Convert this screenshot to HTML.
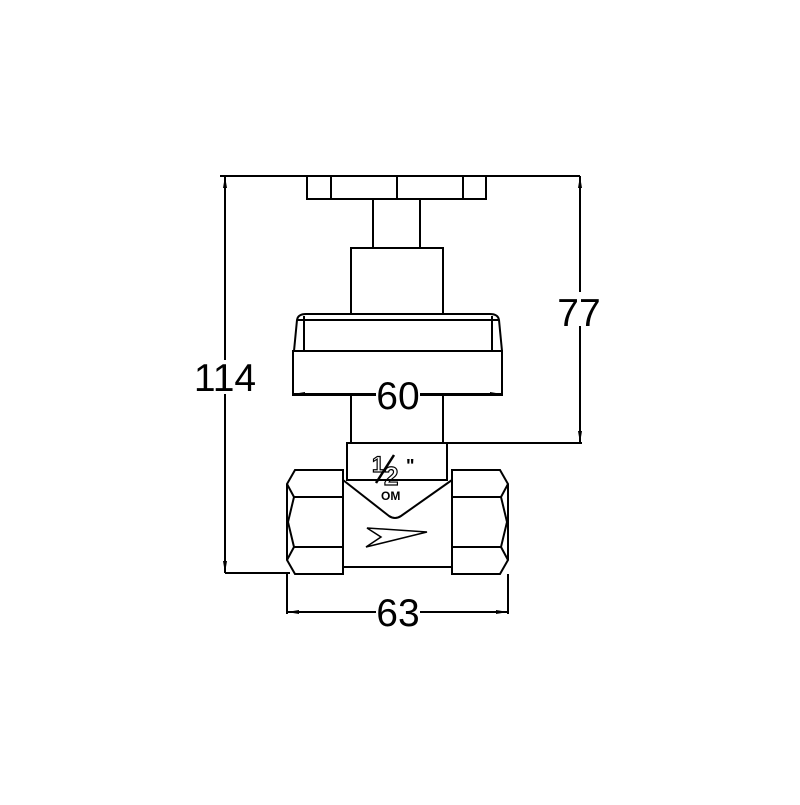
<!DOCTYPE html>
<html><head><style>html,body{margin:0;padding:0;background:#fff}</style></head><body>
<svg width="800" height="800" viewBox="0 0 800 800" xmlns="http://www.w3.org/2000/svg">
<g fill="none" stroke="#000" stroke-width="2">
<rect x="307" y="176" width="179" height="23"/>
<line x1="331" y1="176" x2="331" y2="199"/><line x1="397" y1="176" x2="397" y2="199"/><line x1="463" y1="176" x2="463" y2="199"/>
<rect x="373" y="199" width="47" height="49"/>
<rect x="351" y="248" width="92" height="66"/>
<path d="M294 351 L297 320 Q298 314 306 314 L490 314 Q498 314 499 320 L502 351"/>
<line x1="297" y1="320" x2="499" y2="320"/>
<line x1="304" y1="316" x2="304" y2="351"/><line x1="492" y1="316" x2="492" y2="351"/>
<rect x="293" y="351" width="209" height="44"/>
<line x1="351" y1="395" x2="351" y2="443"/><line x1="443" y1="395" x2="443" y2="443"/>
<rect x="347" y="443" width="100" height="37"/>
<path d="M343 470 L343 567 L452 567 L452 470"/>
<path d="M343 480 L389 516 Q395 520 401 516 L452 480"/>
<path d="M295 470 L343 470 L343 574 L295 574 L287 560 L287 484 Z"/>
<path d="M287 484 L294 497 L343 497 M294 497 L288 522 L294 547 L343 547 M294 547 L287 560"/>
<path d="M500 470 L452 470 L452 574 L500 574 L508 560 L508 484 Z"/>
<path d="M508 484 L501 497 L452 497 M501 497 L507 522 L501 547 L452 547 M501 547 L508 560"/>
<path d="M367 528 L427 532 L366 547 L381 537 Z" stroke-width="1.5"/>
<line x1="220" y1="176" x2="580" y2="176"/>
<line x1="225" y1="176" x2="225" y2="573"/>
<line x1="225" y1="573" x2="290" y2="573"/>
<line x1="580" y1="176" x2="580" y2="443"/>
<line x1="447" y1="443" x2="582" y2="443"/>
<line x1="293" y1="394" x2="502" y2="394"/>
<line x1="287" y1="574" x2="287" y2="614"/><line x1="508" y1="574" x2="508" y2="614"/>
<line x1="287" y1="612" x2="508" y2="612"/>
</g>
<g fill="#000">
<path d="M225 176 l-2 12 h4z M225 573 l-2 -12 h4z M580 176 l-2 12 h4z M580 443 l-2 -12 h4z M293 394 l12 -2 v4z M502 394 l-12 -2 v4z M287 612 l12 -2 v4z M508 612 l-12 -2 v4z"/>
</g>
<g font-family="Liberation Sans, sans-serif" font-size="39" text-anchor="middle">
<rect x="197" y="360" width="56" height="34" fill="#fff"/>
<text x="225" y="391">114</text>
<rect x="558" y="292" width="44" height="34" fill="#fff"/>
<text x="579" y="326">77</text>
<rect x="376" y="377" width="44" height="34" fill="#fff"/>
<text x="398" y="409">60</text>
<rect x="376" y="595" width="44" height="34" fill="#fff"/>
<text x="398" y="626">63</text>
</g>
<g font-family="Liberation Sans, sans-serif" font-weight="bold">
<text x="372" y="472" font-size="22" fill="none" stroke="#000" stroke-width="1.2">1</text>
<line x1="376" y1="483" x2="394" y2="455" stroke="#000" stroke-width="2.5"/>
<text x="384" y="485" font-size="26" fill="none" stroke="#000" stroke-width="1.2">2</text>
<text x="406" y="472" font-size="18">"</text>
<text x="381" y="500" font-size="12">OM</text>
</g>
</svg>
</body></html>
